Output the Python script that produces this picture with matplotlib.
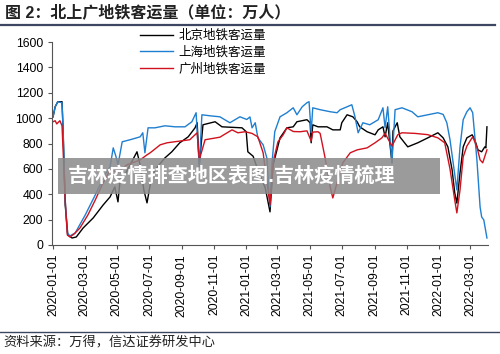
import matplotlib
matplotlib.use('Agg')
import matplotlib.pyplot as plt
import matplotlib.dates as mdates
import pandas as pd

plt.rcParams['font.family'] = ['Liberation Sans', 'Noto Sans CJK SC', 'DejaVu Sans']

# data (万人)
bj_dates = ['2020-01-01', '2020-01-05', '2020-01-10', '2020-01-18', '2020-01-20', '2020-01-24',
            '2020-01-29', '2020-02-06', '2020-02-14', '2020-02-27', '2020-03-17', '2020-04-05',
            '2020-04-18', '2020-04-27', '2020-05-03', '2020-05-07', '2020-05-16', '2020-05-26',
            '2020-06-08', '2020-06-14', '2020-06-21', '2020-06-27', '2020-07-03', '2020-07-12',
            '2020-07-31', '2020-08-13', '2020-08-28', '2020-09-13', '2020-09-26', '2020-09-30',
            '2020-10-04', '2020-10-11', '2020-11-03', '2020-11-16', '2020-12-24', '2021-01-01',
            '2021-01-04', '2021-01-14', '2021-01-23', '2021-02-06', '2021-02-15', '2021-02-21',
            '2021-03-06', '2021-03-19', '2021-03-31', '2021-04-07', '2021-04-26', '2021-05-02',
            '2021-05-04', '2021-05-07', '2021-05-17', '2021-06-03', '2021-06-14', '2021-06-28',
            '2021-07-01', '2021-07-11', '2021-07-22', '2021-07-30', '2021-08-04', '2021-08-18',
            '2021-09-02', '2021-09-08', '2021-09-17', '2021-09-21', '2021-09-26', '2021-10-04',
            '2021-10-06', '2021-10-14', '2021-10-19', '2021-11-03', '2021-11-22', '2021-12-11',
            '2021-12-30', '2022-01-09', '2022-01-18', '2022-01-26', '2022-01-31', '2022-02-04',
            '2022-02-10', '2022-02-16', '2022-02-23', '2022-03-05', '2022-03-10', '2022-03-16',
            '2022-03-23', '2022-03-29', '2022-03-31', '2022-04-02']
bj_values = [1011, 1090, 1130, 1130, 909, 316,
             79, 55, 63, 134, 213, 316,
             379, 458, 340, 514, 553, 632,
             735, 632, 434, 332, 474, 592,
             687, 735, 806, 853, 924, 964,
             632, 948, 972, 932, 924, 893,
             735, 700, 592, 450, 261, 632,
             845, 924, 932, 972, 988, 964,
             806, 948, 932, 932, 908, 908,
             964, 1027, 1011, 972, 932, 893,
             869, 908, 932, 853, 964, 648,
             900, 964, 853, 774, 806, 845,
             885, 845, 774, 592, 411, 330,
             569, 774, 845, 869, 830, 750,
             735, 774, 766, 932]

sh_dates = ['2020-01-01', '2020-01-05', '2020-01-10', '2020-01-18', '2020-01-20', '2020-01-24',
            '2020-01-28', '2020-02-02', '2020-02-12', '2020-03-02', '2020-03-21', '2020-04-08',
            '2020-04-18', '2020-04-24', '2020-04-29', '2020-05-03', '2020-05-11', '2020-05-26',
            '2020-06-14', '2020-06-19', '2020-06-23', '2020-06-29', '2020-07-12', '2020-07-31',
            '2020-08-19', '2020-09-07', '2020-09-20', '2020-09-28', '2020-10-04', '2020-10-09',
            '2020-10-24', '2020-11-12', '2020-12-01', '2020-12-20', '2021-01-02', '2021-01-08',
            '2021-01-12', '2021-01-18', '2021-01-23', '2021-02-02', '2021-02-09', '2021-02-15',
            '2021-02-19', '2021-02-24', '2021-03-06', '2021-03-19', '2021-03-31', '2021-04-07',
            '2021-04-17', '2021-04-26', '2021-04-30', '2021-05-04', '2021-05-07', '2021-05-21',
            '2021-06-09', '2021-06-22', '2021-06-28', '2021-07-11', '2021-07-20', '2021-07-26',
            '2021-08-01', '2021-08-10', '2021-08-23', '2021-09-08', '2021-09-17', '2021-09-21',
            '2021-09-26', '2021-10-04', '2021-10-10', '2021-10-23', '2021-11-11', '2021-11-22',
            '2021-12-11', '2021-12-30', '2022-01-09', '2022-01-16', '2022-01-22', '2022-01-28',
            '2022-02-04', '2022-02-10', '2022-02-16', '2022-02-23', '2022-03-01', '2022-03-06',
            '2022-03-14', '2022-03-20', '2022-03-23', '2022-03-27', '2022-04-02']
sh_values = [1011, 1090, 1130, 1122, 909, 355,
             95, 71, 95, 237, 395, 553,
             616, 766, 700, 632, 814, 830,
             853, 885, 727, 924, 924, 940,
             932, 932, 972, 1043, 616, 1027,
             1019, 1011, 964, 1011, 990, 1010,
             924, 964, 845, 790, 687, 300,
             656, 893, 1011, 1043, 1082, 1027,
             1090, 1122, 1130, 885, 1082, 1067,
             1051, 1043, 1067, 1090, 1106, 1011,
             885, 964, 948, 988, 1082, 924,
             1090, 648, 1067, 1082, 1051, 1011,
             1027, 1043, 1030, 964, 830, 648,
             434, 774, 988, 1051, 1082, 1043,
             671, 300, 221, 198, 55]

gz_dates = ['2020-01-01', '2020-01-05', '2020-01-08', '2020-01-14', '2020-01-18', '2020-01-20',
            '2020-01-24', '2020-01-28', '2020-02-02', '2020-02-10', '2020-02-21', '2020-03-07',
            '2020-03-21', '2020-04-03', '2020-04-18', '2020-05-03', '2020-05-20', '2020-06-14',
            '2020-06-27', '2020-07-03', '2020-07-22', '2020-08-04', '2020-09-16', '2020-09-30',
            '2020-10-04', '2020-10-15', '2020-11-12', '2020-12-05', '2020-12-16', '2020-12-30',
            '2021-01-12', '2021-01-23', '2021-02-02', '2021-02-09', '2021-02-15', '2021-02-21',
            '2021-03-02', '2021-03-12', '2021-03-19', '2021-03-31', '2021-04-13', '2021-04-26',
            '2021-05-04', '2021-05-07', '2021-05-17', '2021-05-21', '2021-05-30', '2021-06-09',
            '2021-06-14', '2021-06-22', '2021-07-03', '2021-07-17', '2021-07-30', '2021-08-18',
            '2021-09-02', '2021-09-15', '2021-09-21', '2021-10-04', '2021-10-15', '2021-10-23',
            '2021-11-17', '2021-12-11', '2021-12-30', '2022-01-12', '2022-01-22', '2022-01-31',
            '2022-02-04', '2022-02-10', '2022-02-16', '2022-02-23', '2022-03-06', '2022-03-14',
            '2022-03-20', '2022-03-25', '2022-04-02']
gz_values = [972, 980, 955, 980, 940, 750,
             355, 79, 63, 87, 134, 237,
             355, 474, 592, 575, 632, 671,
             711, 727, 790, 806, 830, 885,
             671, 830, 850, 908, 885, 893,
             880, 853, 727, 500, 316, 656,
             813, 869, 924, 895, 893, 900,
             820, 890, 893, 880, 695, 458,
             371, 490, 648, 727, 750, 766,
             806, 845, 880, 780, 869, 885,
             880, 870, 845, 806, 600, 355,
             253, 434, 695, 780, 853, 774,
             671, 648, 750]

series_names = ['北京地铁客运量', '上海地铁客运量', '广州地铁客运量']
series_colors = ['black', '#1f7fd0', '#d0121e']
tick_dates = pd.date_range('2020-01-01', '2022-03-01', freq='2MS')

fig = plt.figure(figsize=(5, 3.54), dpi=100)
ax = fig.add_axes([0.104, 0.308, 0.872, 0.573])

ax.plot(pd.to_datetime(bj_dates), bj_values, color=series_colors[0], lw=1.0, label=series_names[0])
ax.plot(pd.to_datetime(sh_dates), sh_values, color=series_colors[1], lw=1.0, label=series_names[1])
ax.plot(pd.to_datetime(gz_dates), gz_values, color=series_colors[2], lw=1.0, label=series_names[2])

ax.set_ylim(0, 1600)
ax.set_yticks(range(0, 1601, 200))
ax.set_xlim(pd.Timestamp('2019-12-30'), pd.Timestamp('2022-04-04'))
ax.set_xticks(tick_dates)
ax.xaxis.set_major_formatter(mdates.DateFormatter('%Y-%m-%d'))
ax.tick_params(axis='x', rotation=90, labelsize=8.8, length=3, color='#555555')
ax.tick_params(axis='y', labelsize=8.8, length=3, color='#555555')
for s in ['top', 'right']:
    ax.spines[s].set_visible(False)
for s in ['left', 'bottom']:
    ax.spines[s].set_color('#555555')

fig.legend(loc='upper left', bbox_to_anchor=(0.27, 0.93), frameon=False,
           fontsize=9, handlelength=2.6, labelspacing=0.35, handletextpad=0.5,
           borderaxespad=0)

# title, rules and source
fig.text(0.01, 0.966, '图 2：北上广地铁客运量（单位：万人）', fontsize=11.5, fontweight='bold',
         va='center', ha='left', color='#222222')
fig.add_artist(plt.Line2D([0.0, 0.99], [0.929, 0.929], color='#3d4660', lw=1.6))
fig.add_artist(plt.Line2D([0.0, 1.0], [0.062, 0.062], color='#3d4660', lw=1.0))
fig.text(0.006, 0.031, '资料来源：万得，信达证券研发中心', fontsize=9.5, style='italic',
         va='center', ha='left', color='#222222')

# grey banner overlay
fig.add_artist(plt.Rectangle((0.116, 0.452), 0.764, 0.102, transform=fig.transFigure,
                             facecolor='#8a8a8a', alpha=0.85, edgecolor='none'))
fig.text(0.136, 0.503, '吉林疫情排查地区表图.吉林疫情梳理', fontsize=14.5, fontweight='bold',
         color='white', va='center', ha='left')

plt.savefig('out.png', dpi=100)
